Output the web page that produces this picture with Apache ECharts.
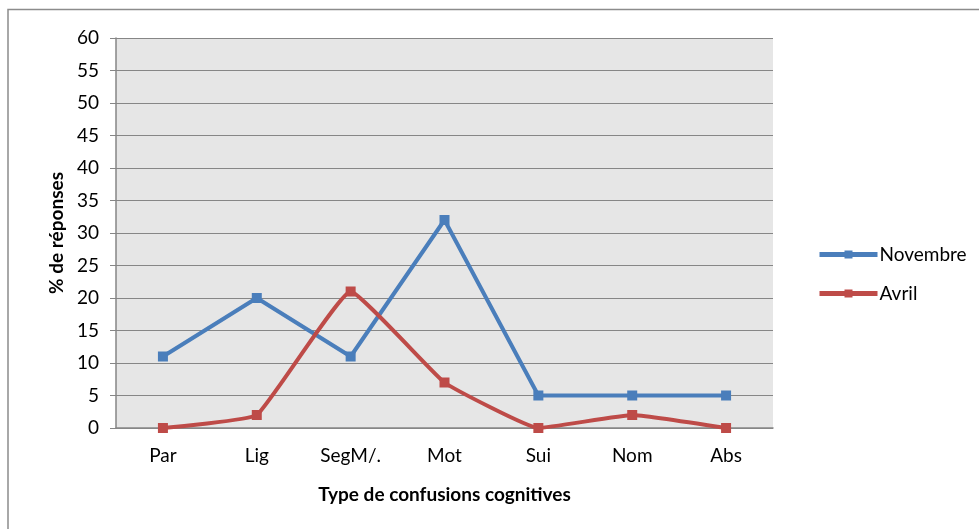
<!DOCTYPE html>
<html>
<head>
<meta charset="utf-8">
<script src="https://cdn.jsdelivr.net/npm/echarts@6/dist/echarts.min.js"></script>
<style>
  html, body { margin: 0; padding: 0; background: #fff; }
  #chart { width: 979px; height: 529px; }
</style>
</head>
<body>
<div id="chart"></div>
<script>
// categories on the x axis
var categories = ["Par", "Lig", "SegM/.", "Mot", "Sui", "Nom", "Abs"];
// % de réponses per month
var novembre = [11, 20, 11, 32, 5, 5, 5];
var avril = [0, 2, 21, 7, 0, 2, 0];

var chartDom = document.getElementById("chart");
var myChart = echarts.init(chartDom);
var font = "Lato, 'Open Sans', sans-serif";

var option = {
  animation: false,
  textStyle: { fontFamily: font },
  graphic: [
    {
      type: "rect",
      shape: { x: 8, y: 9.5, width: 990, height: 540 },
      style: { fill: "none", stroke: "#8c8c8c", lineWidth: 1.5 },
    },
  ],
  grid: {
    left: 116,
    top: 38,
    width: 657,
    height: 390,
    show: true,
    backgroundColor: "#e6e6e6",
    borderWidth: 0,
  },
  legend: {
    orient: "vertical",
    left: 812,
    top: 240,
    itemWidth: 58,
    itemHeight: 10,
    itemGap: 20,
    textStyle: { fontSize: 19, color: "#000", fontFamily: font, padding: [0, 0, 0, -3] },
    data: [
      { name: "Novembre", lineStyle: { width: 5, color: "#4a7ebb" } },
      { name: "Avril", lineStyle: { width: 5, color: "#be4b48" } },
    ],
  },
  xAxis: {
    type: "category",
    data: categories,
    boundaryGap: true,
    name: "Type de confusions cognitives",
    nameLocation: "middle",
    nameGap: 57,
    nameTextStyle: { fontSize: 19, fontWeight: "bold", color: "#000", fontFamily: font },
    axisLine: { lineStyle: { color: "#868686", width: 1.5 } },
    axisTick: { alignWithLabel: true, length: 5, lineStyle: { color: "#868686" } },
    axisLabel: { fontSize: 19, color: "#000", margin: 18, fontFamily: font },
    splitLine: { show: false },
  },
  yAxis: {
    type: "value",
    min: 0,
    max: 60,
    interval: 5,
    name: "% de réponses",
    nameLocation: "middle",
    nameGap: 49,
    nameTextStyle: { fontSize: 19, fontWeight: "bold", color: "#000", fontFamily: font },
    axisLine: { show: true, lineStyle: { color: "#868686", width: 1.5 } },
    axisTick: { show: true, length: 6, lineStyle: { color: "#868686" } },
    axisLabel: { fontSize: 19, color: "#000", margin: 17, fontFamily: font },
    splitLine: { show: true, lineStyle: { color: "#868686", width: 1.2 } },
  },
  series: [
    {
      name: "Novembre",
      type: "line",
      data: novembre,
      symbol: "rect",
      symbolSize: 10,
      lineStyle: { color: "#4a7ebb", width: 4 },
      itemStyle: { color: "#4a7ebb" },
    },
    {
      name: "Avril",
      type: "line",
      data: avril,
      smooth: 0.1,
      symbol: "rect",
      symbolSize: 10,
      lineStyle: { color: "#be4b48", width: 4 },
      itemStyle: { color: "#be4b48" },
    },
  ],
};
option && myChart.setOption(option);
</script>
</body>
</html>
